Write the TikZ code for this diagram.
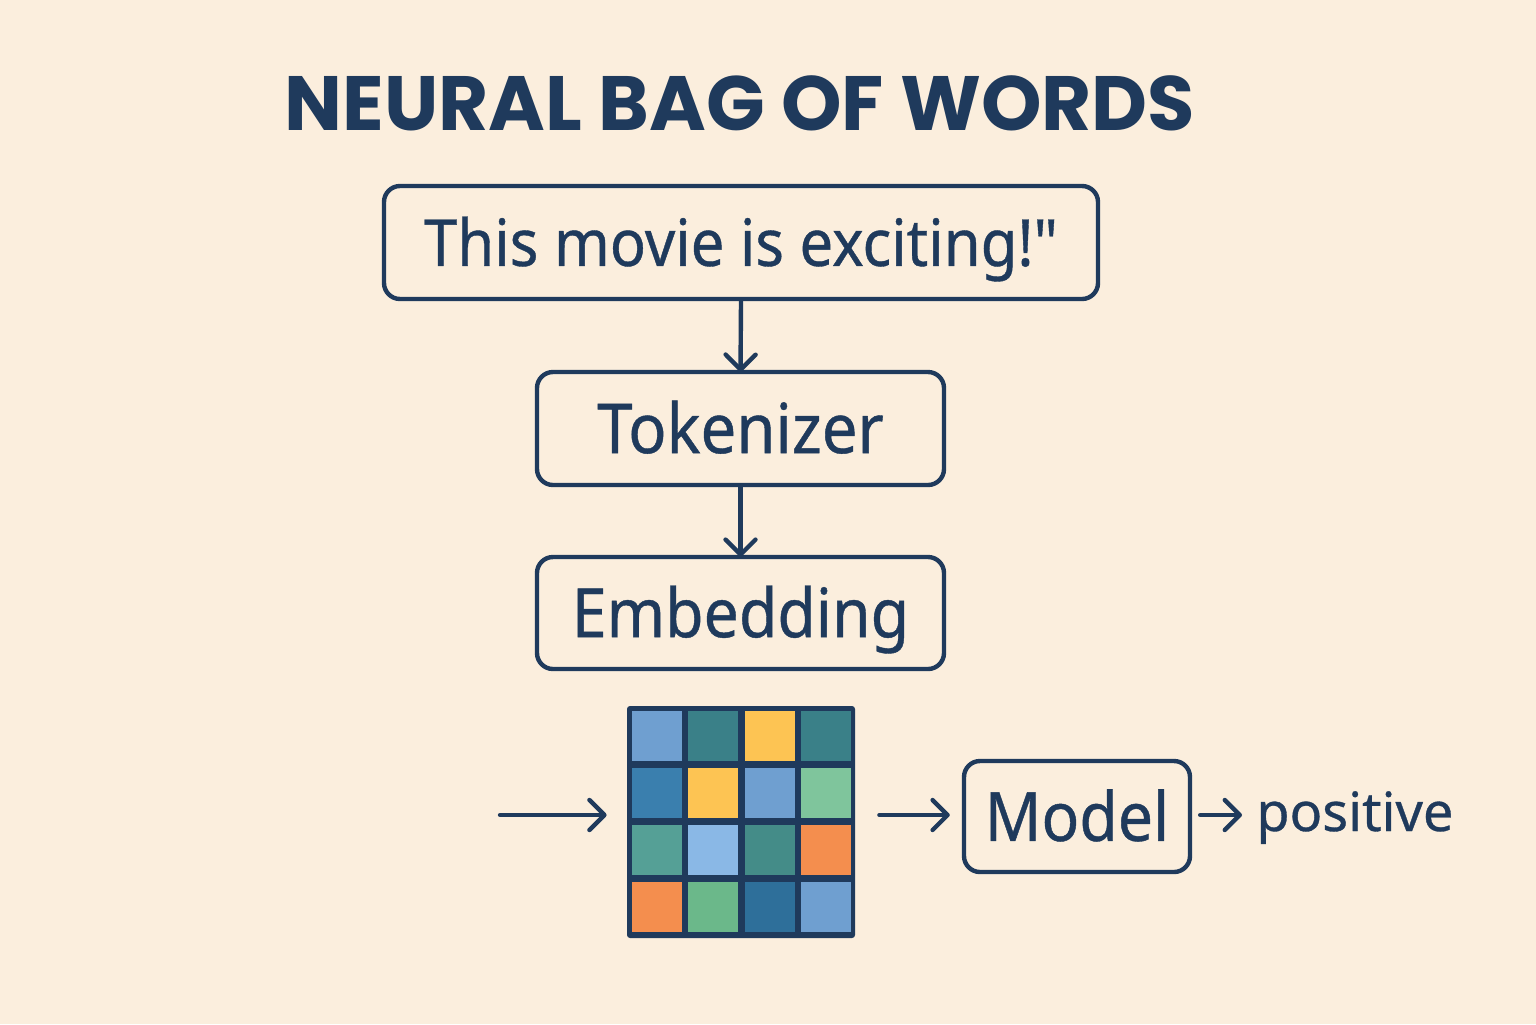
\documentclass[tikz,border=0pt]{standalone}
\usepackage{fontspec}
\setmainfont{Noto Sans}[Ligatures=TeXOff,FakeBold=0.6]
\newfontfamily\narrowfont{Noto Sans}[Ligatures=TeXOff,FakeStretch=0.92,FakeBold=0.6]
\newfontfamily\titlefont{Poppins}
\usetikzlibrary{arrows.meta}
\definecolor{bgc}{HTML}{FBEEDD}
\definecolor{navy}{HTML}{1F3A5C}
\definecolor{cA}{HTML}{6F9FD0}
\definecolor{cB}{HTML}{3A8088}
\definecolor{cC}{HTML}{FDC453}
\definecolor{cD}{HTML}{3A7FAE}
\definecolor{cE}{HTML}{7FC59C}
\definecolor{cF}{HTML}{55A096}
\definecolor{cG}{HTML}{8AB8E6}
\definecolor{cH}{HTML}{448C88}
\definecolor{cI}{HTML}{F48E4E}
\definecolor{cJ}{HTML}{6BB88A}
\definecolor{cK}{HTML}{2E6F9A}
\tikzset{
  stagebox/.style={draw=navy, line width=2.2pt, rounded corners=8pt, fill=bgc, text=navy, inner sep=0pt, text depth=0pt},
  flow/.style={draw=navy, line width=2.2pt, line cap=round, -{Straight Barb[length=7.5pt,width=15pt,line width=2.2pt,line cap=round,line join=round]}},
  cell/.style={minimum width=25pt, minimum height=25pt, inner sep=0pt, draw=none}
}
\begin{document}
\begin{tikzpicture}[x=0.5pt,y=-0.5pt]
\fill[bgc] (0,0) rectangle (1536,1024);
\useasboundingbox (0,0) rectangle (1536,1024);
\node[text=navy, font=\titlefont\bfseries\fontsize{38.5}{46}\selectfont] (title) at (740,103) {NEURAL BAG OF WORDS};
\node[stagebox, text height=23.4pt, minimum width=357pt, minimum height=56.5pt, font=\narrowfont\fontsize{32.5}{40}\selectfont] (sent) at (741,242.5) {This movie is exciting!"};
\node[stagebox, text height=24.6pt, minimum width=203.5pt, minimum height=56.5pt, font=\narrowfont\fontsize{34.5}{42}\selectfont] (tok) at (740.5,428.5) {Tokenizer};
\node[stagebox, text height=24.2pt, minimum width=203.5pt, minimum height=56pt, font=\narrowfont\fontsize{34}{41}\selectfont] (emb) at (740.5,613) {Embedding};
\node[fill=navy, rounded corners=1.5pt, minimum width=114pt, minimum height=116pt, inner sep=0pt] (grid) at (741,822) {};
% cells
\node[cell, fill=cA] (c11) at (657,736) {};
\node[cell, fill=cB] (c12) at (713,736) {};
\node[cell, fill=cC] (c13) at (769.5,736) {};
\node[cell, fill=cB] (c14) at (825.5,736) {};
\node[cell, fill=cD] (c21) at (657,793) {};
\node[cell, fill=cC] (c22) at (713,793) {};
\node[cell, fill=cA] (c23) at (769.5,793) {};
\node[cell, fill=cE] (c24) at (825.5,793) {};
\node[cell, fill=cF] (c31) at (657,850) {};
\node[cell, fill=cG] (c32) at (713,850) {};
\node[cell, fill=cH] (c33) at (769.5,850) {};
\node[cell, fill=cI] (c34) at (825.5,850) {};
\node[cell, fill=cI] (c41) at (657,907) {};
\node[cell, fill=cJ] (c42) at (713,907) {};
\node[cell, fill=cK] (c43) at (769.5,907) {};
\node[cell, fill=cA] (c44) at (825.5,907) {};
\node[stagebox, text height=24.4pt, minimum width=113pt, minimum height=55.5pt, font=\narrowfont\fontsize{34}{41}\selectfont] (model) at (1077,816.5) {Model};
\node[text=navy, anchor=base west, inner sep=0pt, font=\fontsize{27}{32}\selectfont] (pos) at (1256,831) {positive};
\coordinate (lin) at (500,815);
\draw[flow] (sent.south) -- ([yshift=-1pt]tok.north);
\draw[flow] (tok.south) -- ([yshift=-1pt]emb.north);
\draw[flow] (lin) -- ([xshift=-10pt]grid.west |- lin);
\draw[flow] ([xshift=12pt]grid.east |- lin) -- ([xshift=-6pt]model.west |- lin);
\draw[flow] ([xshift=4pt]model.east |- lin) -- ([xshift=-7pt]pos.west |- lin);
\end{tikzpicture}
\end{document}
